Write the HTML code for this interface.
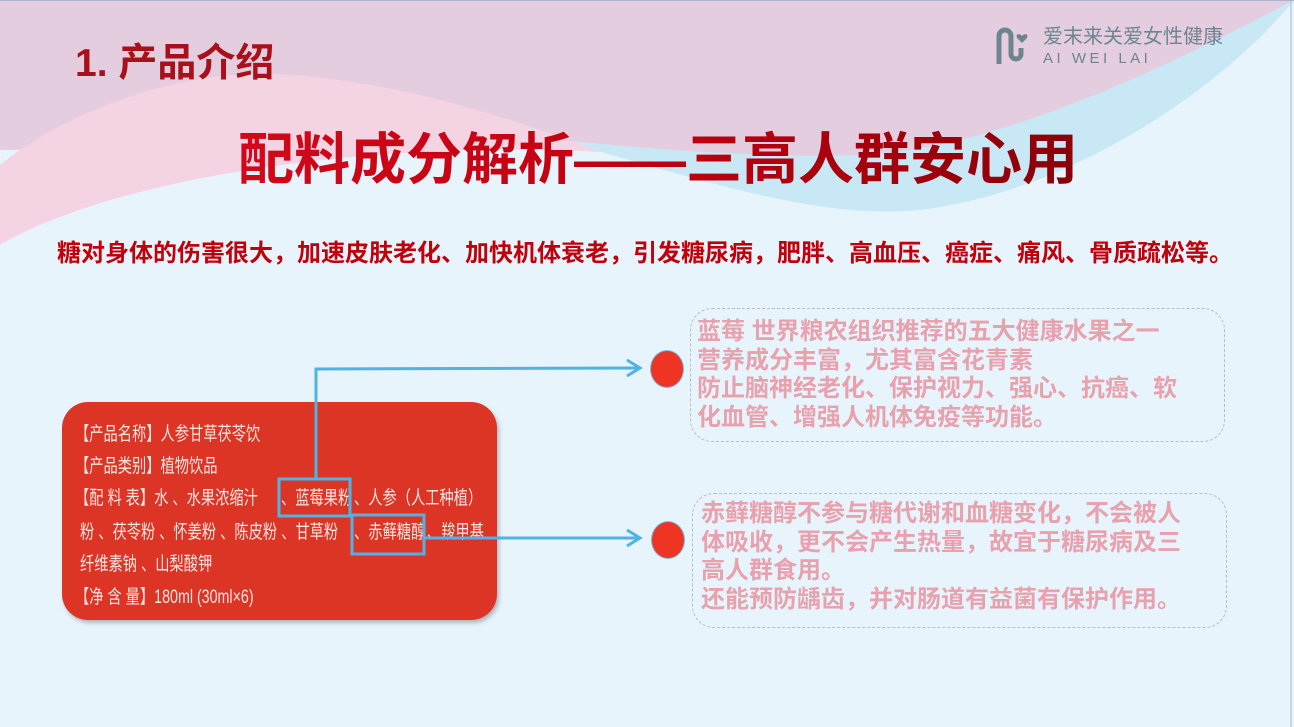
<!DOCTYPE html>
<html><head><meta charset="utf-8"><style>
body{margin:0;width:1294px;height:727px;overflow:hidden;background:#e8f4fc;font-family:"Liberation Sans","Noto Sans CJK SC",sans-serif;position:relative}
.a{position:absolute;white-space:nowrap}
.card{position:absolute;left:62px;top:402px;width:435px;height:218px;background:#dc3526;border-radius:26px;box-shadow:2px 3px 4px rgba(0,0,0,.25)}
.ct{position:absolute;color:#f6e4e0;font-size:19px;line-height:20px;transform:scaleX(0.75);transform-origin:left center}
.box{position:absolute;border:1.5px dashed #b9bcc4;border-radius:22px}
.bt{position:absolute;color:#e8a2ae;font-weight:bold;font-size:24px;line-height:28.5px;white-space:nowrap}
.dot{position:absolute;width:32px;height:36px;border-radius:50%;background:#ee3524;border:1.5px solid #6fbbe6}
</style></head><body>
<svg class="a" style="left:0;top:0" width="1294" height="727">
<path d="M0 0H1294V0 C1230 80 1080 190 920 210 C820 220 700 180 560 140 L0 150Z" fill="#c8e8f5"/>
<path d="M0 0H1294 C1180 60 1000 150 860 155 C760 158 660 150 560 140 L0 150Z" fill="#e5cde0"/>
<path d="M0 245 C120 175 380 140 600 152 C470 100 320 65 220 76 C110 90 30 140 0 165Z" fill="#f4d3e2"/>
<path d="M0 0H1294" stroke="#aab4cc" stroke-width="2"/>
<line x1="1291" y1="0" x2="1291" y2="727" stroke="#aab4cc" stroke-width="1"/>
</svg>
<div class="a" style="left:75px;top:32px;font-size:39px;font-weight:bold;color:#a8101a">1. 产品介绍</div>
<svg class="a" style="left:994px;top:24px" width="40" height="44"><path d="M5 40 V12 a6 6 0 0 1 12 0 V30 a5 5 0 0 0 10 0 V24" fill="none" stroke="#6e8590" stroke-width="5"/><path d="M28 12 c-3-4-8-1-4 3 l4 4 4-4c4-4-1-7-4-3z" fill="#6e8590"/></svg>
<div class="a" style="left:1043px;top:24px;font-size:20px;line-height:26px;color:#6e8590">爱末来关爱女性健康</div>
<div class="a" style="left:1043px;top:50px;font-size:15px;line-height:18px;color:#6e8590;letter-spacing:3.5px">AI WEI LAI</div>
<div class="a" style="left:238px;top:128px;font-size:56px;font-weight:bold;line-height:64px;background:linear-gradient(90deg,#d2081a,#c00010 50%,#8a0008);-webkit-background-clip:text;color:transparent">配料成分解析——三高人群安心用</div>
<div class="a" style="left:57px;top:239px;font-size:24px;font-weight:bold;color:#c0000a;letter-spacing:0px;line-height:30px">糖对身体的伤害很大，加速皮肤老化、加快机体衰老，引发糖尿病，肥胖、高血压、癌症、痛风、骨质疏松等。</div>
<div class="card"></div>
<div class="ct a" style="left:75px;top:425px">【产品名称】人参甘草茯苓饮</div>
<div class="ct a" style="left:75px;top:457px">【产品类别】植物饮品</div>
<div class="ct a" style="left:75px;top:489px">【配 料 表】水 、水果浓缩汁</div>
<div class="ct a" style="left:281px;top:489px">、蓝莓果粉</div>
<div class="ct a" style="left:354px;top:489px">、人参（人工种植）</div>
<div class="ct a" style="left:80px;top:523px">粉 、茯苓粉 、怀姜粉 、陈皮粉 、甘草粉</div>
<div class="ct a" style="left:354px;top:523px">、赤藓糖醇</div>
<div class="ct a" style="left:427px;top:523px">、羧甲基</div>
<div class="ct a" style="left:80px;top:555px">纤维素钠 、山梨酸钾</div>
<div class="ct a" style="left:75px;top:588px">【净 含 量】180ml (30ml×6)</div>
<svg class="a" style="left:0;top:0" width="1294" height="727">
<rect x="279" y="479" width="71" height="37" fill="none" stroke="#4fb3e4" stroke-width="3"/>
<rect x="352" y="515" width="72" height="39" fill="none" stroke="#4fb3e4" stroke-width="3"/>
<polyline points="316,479 316,369 640,368" fill="none" stroke="#4fb3e4" stroke-width="3"/>
<polyline points="627,360 640,368 627,376" fill="none" stroke="#4fb3e4" stroke-width="3"/>
<line x1="424" y1="538" x2="640" y2="538" stroke="#4fb3e4" stroke-width="3"/>
<polyline points="627,530 640,538 627,546" fill="none" stroke="#4fb3e4" stroke-width="3"/>
</svg>
<div class="dot" style="left:650px;top:350px"></div>
<div class="dot" style="left:651px;top:521px"></div>
<div class="box" style="left:690px;top:308px;width:533px;height:132px"></div>
<div class="box" style="left:692px;top:493px;width:533px;height:133px"></div>
<div class="bt" style="left:697px;top:318px">蓝莓 世界粮农组织推荐的五大健康水果之一<br>营养成分丰富，尤其富含花青素<br>防止脑神经老化、保护视力、强心、抗癌、软<br>化血管、增强人机体免疫等功能。</div>
<div class="bt" style="left:701px;top:500px">赤藓糖醇不参与糖代谢和血糖变化，不会被人<br>体吸收，更不会产生热量，故宜于糖尿病及三<br>高人群食用。<br>还能预防龋齿，并对肠道有益菌有保护作用。</div>
</body></html>
